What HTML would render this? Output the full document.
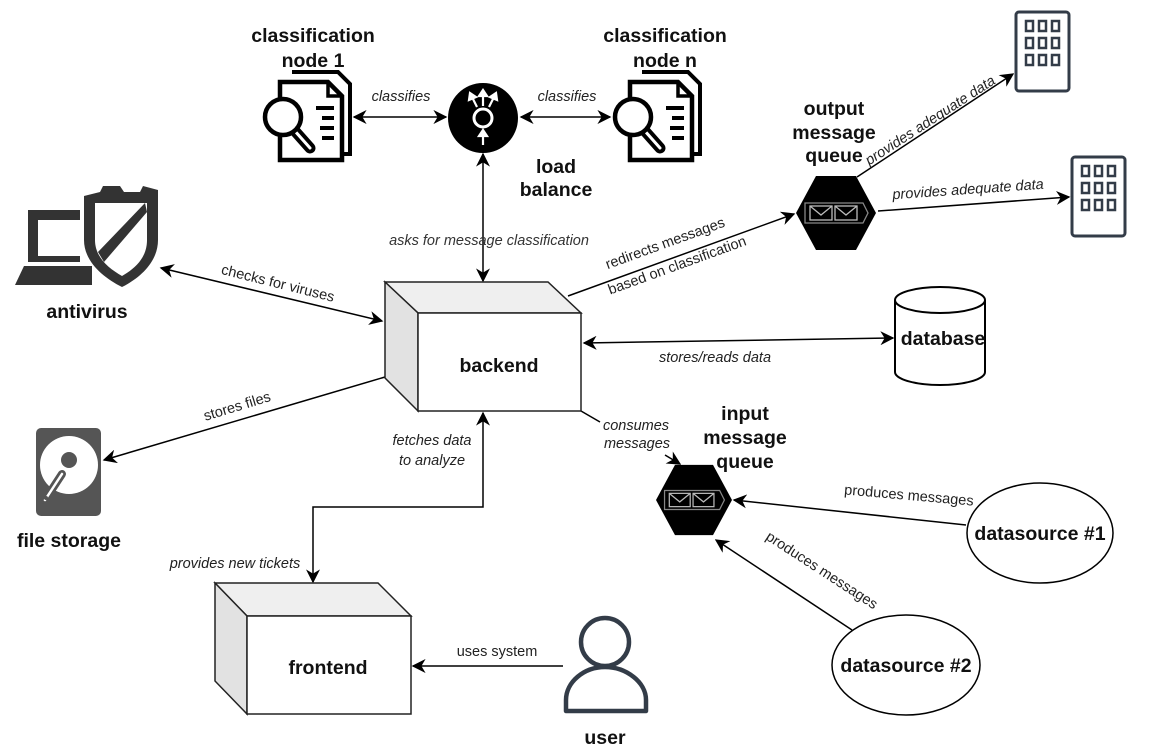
<!DOCTYPE html>
<html><head><meta charset="utf-8"><style>
html,body{margin:0;padding:0;background:#fff}
svg{display:block}
.l{font-family:"Liberation Sans",sans-serif;font-size:14.5px;font-style:italic;fill:#222}
.n{font-family:"Liberation Sans",sans-serif;font-size:19.5px;font-weight:bold;fill:#111}
</style></head><body>
<svg width="1170" height="750" viewBox="0 0 1170 750" xmlns="http://www.w3.org/2000/svg">
<defs>
<marker id="b" viewBox="0 0 10 10" refX="9" refY="5" markerWidth="14" markerHeight="14" markerUnits="userSpaceOnUse" orient="auto-start-reverse">
<path d="M0,0 L10,5 L0,10 L3,5 z" fill="#000"/></marker>
<g id="doc">
<path d="M-18,-44 H28 L40,-32 V38 H34" fill="none" stroke="#000" stroke-width="4"/>
<path d="M-30,-34 H18 L32,-20 V44 H-30 z" fill="#fff" stroke="#000" stroke-width="4.5"/>
<path d="M18,-34 V-20 H32" fill="none" stroke="#000" stroke-width="3.5"/>
<path d="M6,-8 H24 M12,2 H24 M10,12 H24 M12,22 H24" stroke="#000" stroke-width="4"/>
<path d="M-16,14 L0,32" stroke="#000" stroke-width="11" stroke-linecap="round"/>
<path d="M-16,14 L0,32" stroke="#fff" stroke-width="3" stroke-linecap="round"/>
<circle cx="-27" cy="1" r="18" fill="#fff" stroke="#000" stroke-width="4.5"/>
</g>
<g id="hex">
<polygon points="-40,0 -20,-37 20,-37 40,0 20,37 -20,37" fill="#000"/>
<path d="M-31,-10 H27 L32,0 L27,10 H-31 z" fill="none" stroke="#888" stroke-width="1.3"/>
<rect x="-26" y="-7" width="22" height="14" fill="none" stroke="#bbb" stroke-width="1.3"/>
<path d="M-26,-7 L-15,2 L-4,-7" fill="none" stroke="#bbb" stroke-width="1.3"/>
<rect x="-1" y="-7" width="22" height="14" fill="none" stroke="#bbb" stroke-width="1.3"/>
<path d="M-1,-7 L10,2 L21,-7" fill="none" stroke="#bbb" stroke-width="1.3"/>
</g>
<g id="bld">
<rect x="0" y="0" width="53" height="79" rx="3" fill="#fff" stroke="#333c48" stroke-width="3"/>
<g fill="none" stroke="#333c48" stroke-width="2.5">
<rect x="10" y="9" width="7" height="10"/><rect x="23" y="9" width="7" height="10"/><rect x="36" y="9" width="7" height="10"/>
<rect x="10" y="26" width="7" height="10"/><rect x="23" y="26" width="7" height="10"/><rect x="36" y="26" width="7" height="10"/>
<rect x="10" y="43" width="7" height="10"/><rect x="23" y="43" width="7" height="10"/><rect x="36" y="43" width="7" height="10"/>
</g></g>
</defs>

<g stroke="#000" stroke-width="1.5" fill="none">
<line x1="354" y1="117" x2="446" y2="117" marker-start="url(#b)" marker-end="url(#b)"/>
<line x1="521" y1="117" x2="610" y2="117" marker-start="url(#b)" marker-end="url(#b)"/>
<line x1="483" y1="154" x2="483" y2="281" marker-start="url(#b)" marker-end="url(#b)"/>
<line x1="568" y1="296" x2="794" y2="214" marker-end="url(#b)"/>
<line x1="857" y1="177" x2="1013" y2="74" marker-end="url(#b)"/>
<line x1="878" y1="211" x2="1069" y2="197" marker-end="url(#b)"/>
<line x1="584" y1="343" x2="893" y2="338" marker-start="url(#b)" marker-end="url(#b)"/>
<line x1="161" y1="268" x2="382" y2="321" marker-start="url(#b)" marker-end="url(#b)"/>
<line x1="385" y1="377" x2="104" y2="460" marker-end="url(#b)"/>
<polyline points="313,582 313,507 483,507 483,413" marker-start="url(#b)" marker-end="url(#b)"/>
<polyline points="581,411 600,422"/>
<polyline points="665,455 680,464" marker-end="url(#b)"/>
<line x1="966" y1="525" x2="734" y2="500" marker-end="url(#b)"/>
<line x1="852" y1="630" x2="716" y2="540" marker-end="url(#b)"/>
<line x1="563" y1="666" x2="413" y2="666" marker-end="url(#b)"/>
</g>

<text class="l" x="401" y="101" text-anchor="middle">classifies</text>
<text class="l" x="567" y="101" text-anchor="middle">classifies</text>
<text class="l" x="489" y="245" text-anchor="middle" style="fill:#333">asks for message classification</text>
<text class="l" x="665" y="248" text-anchor="middle" transform="rotate(-20 665 243)" style="font-style:normal">redirects messages</text>
<text class="l" x="677" y="270" text-anchor="middle" transform="rotate(-20 677 265)" style="font-style:normal">based on classification</text>
<text class="l" x="930" y="125" text-anchor="middle" transform="rotate(-33 930 120)">provides adequate data</text>
<text class="l" x="968" y="194" text-anchor="middle" transform="rotate(-4 968 189)">provides adequate data</text>
<text class="l" x="715" y="362" text-anchor="middle">stores/reads data</text>
<text class="l" x="278" y="288" text-anchor="middle" transform="rotate(14 278 283)" style="font-style:normal">checks for viruses</text>
<text class="l" x="237" y="411" text-anchor="middle" transform="rotate(-17 237 406)" style="font-style:normal">stores files</text>
<text class="l" x="432" y="445" text-anchor="middle">fetches data</text>
<text class="l" x="432" y="465" text-anchor="middle">to analyze</text>
<text class="l" x="235" y="568" text-anchor="middle">provides new tickets</text>
<text class="l" x="636" y="430" text-anchor="middle">consumes</text>
<text class="l" x="637" y="448" text-anchor="middle">messages</text>
<text class="l" x="909" y="500" text-anchor="middle" transform="rotate(5 909 495)" style="font-style:normal">produces messages</text>
<text class="l" x="822" y="575" text-anchor="middle" transform="rotate(33 822 570)" style="font-style:normal">produces messages</text>
<text class="l" x="497" y="656" text-anchor="middle" style="font-style:normal">uses system</text>

<g stroke="#222" stroke-width="1.5">
<polygon points="385,282 548,282 581,313 418,313" fill="#efefef"/>
<polygon points="385,282 418,313 418,411 385,378" fill="#e2e2e2"/>
<rect x="418" y="313" width="163" height="98" fill="#fff"/>
</g>
<text class="n" x="499" y="372" text-anchor="middle">backend</text>
<g stroke="#222" stroke-width="1.5">
<polygon points="215,583 378,583 411,616 247,616" fill="#efefef"/>
<polygon points="215,583 247,616 247,714 215,681" fill="#e2e2e2"/>
<rect x="247" y="616" width="164" height="98" fill="#fff"/>
</g>
<text class="n" x="328" y="674" text-anchor="middle">frontend</text>

<use href="#doc" x="310" y="116"/>
<text class="n" x="313" y="42" text-anchor="middle">classification</text>
<text class="n" x="313" y="67" text-anchor="middle">node 1</text>
<use href="#doc" x="660" y="116"/>
<text class="n" x="665" y="42" text-anchor="middle">classification</text>
<text class="n" x="665" y="67" text-anchor="middle">node n</text>

<circle cx="483" cy="118" r="35" fill="#000"/>
<circle cx="483" cy="118" r="9" fill="none" stroke="#fff" stroke-width="3"/>
<g stroke="#fff" stroke-width="2.2" fill="#fff">
<line x1="483" y1="145" x2="483" y2="134"/><path d="M479,136 L483,130 L487,136 z"/>
<line x1="483" y1="106" x2="483" y2="94"/><path d="M479,96 L483,90 L487,96 z"/>
<line x1="477" y1="107" x2="472" y2="97"/><path d="M469,100 L470,93 L476,97 z"/>
<line x1="489" y1="107" x2="494" y2="97"/><path d="M490,97 L496,93 L497,100 z"/>
</g>
<text class="n" x="556" y="173" text-anchor="middle">load</text>
<text class="n" x="556" y="196" text-anchor="middle">balance</text>

<use href="#hex" x="836" y="213"/>
<text class="n" x="834" y="115" text-anchor="middle">output</text>
<text class="n" x="834" y="139" text-anchor="middle">message</text>
<text class="n" x="834" y="162" text-anchor="middle">queue</text>
<use href="#hex" x="694" y="500" transform="translate(694 500) scale(0.95) translate(-694 -500)"/>
<text class="n" x="745" y="420" text-anchor="middle">input</text>
<text class="n" x="745" y="444" text-anchor="middle">message</text>
<text class="n" x="745" y="468" text-anchor="middle">queue</text>

<use href="#bld" x="1016" y="12"/>
<use href="#bld" x="1072" y="157"/>

<path d="M895,300 V372 A45,13 0 0 0 985,372 V300" fill="#fff" stroke="#000" stroke-width="2"/>
<ellipse cx="940" cy="300" rx="45" ry="13" fill="#fff" stroke="#000" stroke-width="2"/>
<text class="n" x="943" y="345" text-anchor="middle">database</text>

<ellipse cx="1040" cy="533" rx="73" ry="50" fill="#fff" stroke="#000" stroke-width="1.5"/>
<text class="n" x="1040" y="540" text-anchor="middle">datasource #1</text>
<ellipse cx="906" cy="665" rx="74" ry="50" fill="#fff" stroke="#000" stroke-width="1.5"/>
<text class="n" x="906" y="672" text-anchor="middle">datasource #2</text>

<g fill="#333">
<path d="M28,210 H80 V220 H38 V256 H80 V262 H28 z"/>
<path d="M15,285 L24,266 H92 V285 z"/>
<path d="M84,196 L100,192 L103,186 L120,186 L124,192 L140,192 L143,186 L158,190 V240 C158,262 140,278 122,287 C104,278 84,262 84,240 z"/>
</g>
<path d="M95,203 V240 C95,257 108,268 122,276 C136,268 147,257 147,240 V203 z" fill="#fff"/>
<path d="M98,252 L145,203 L147,212 L104,262 z" fill="#333"/>
<text class="n" x="87" y="318" text-anchor="middle">antivirus</text>

<rect x="36" y="428" width="65" height="88" rx="5" fill="#555"/>
<circle cx="69" cy="465" r="29" fill="#fff"/>
<circle cx="69" cy="460" r="8" fill="#555"/>
<path d="M62,474 L45,500" stroke="#555" stroke-width="8" stroke-linecap="round"/>
<path d="M62,474 L45,500" stroke="#fff" stroke-width="2.5" stroke-linecap="round"/>
<circle cx="46" cy="498" r="2" fill="#555"/>
<text class="n" x="69" y="547" text-anchor="middle">file storage</text>

<circle cx="605" cy="642" r="24" fill="#fff" stroke="#333c48" stroke-width="4.5"/>
<path d="M566,711 V700 C566,682 584,667 605,667 C626,667 646,682 646,700 V711 z" fill="#fff" stroke="#333c48" stroke-width="4.5" stroke-linejoin="round"/>
<text class="n" x="605" y="744" text-anchor="middle">user</text>
</svg>
</body></html>
